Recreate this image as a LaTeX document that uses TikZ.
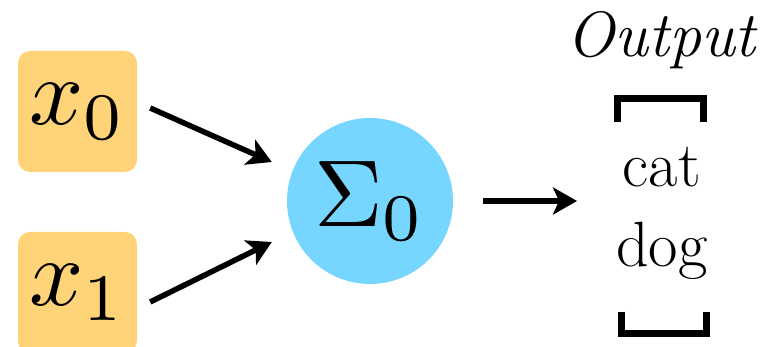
\documentclass[tikz,border=0pt]{standalone}
\usepackage{tikz}
\usetikzlibrary{arrows.meta,positioning,calc}
\definecolor{cantaloupe}{HTML}{FFD479}
\definecolor{sky}{HTML}{76D6FF}

\begin{document}
\begin{tikzpicture}[x=1pt,y=1pt,
  inbox/.style={fill=cantaloupe, rounded corners=12pt, minimum width=119pt, minimum height=121pt, inner sep=0pt},
  sumnode/.style={circle, fill=sky, minimum size=166pt, inner sep=0pt},
  word/.style={anchor=base, inner sep=0pt, font=\fontsize{64}{70}\selectfont},
  arr/.style={-{Stealth[length=24pt,width=27pt,inset=6pt]}, line width=5.5pt},
  brk/.style={line width=7pt}]
\useasboundingbox (0,0) rectangle (772,347);

% inputs
\node[inbox] (x0) at (77.5,235.5) {\scalebox{9.5}{$x_0$}};
\node[inbox] (x1) at (77.5,54.5) {\scalebox{9.5}{$x_1$}};

% neuron
\node[sumnode] (sum) at (370,146) {\scalebox{9.5}{$\Sigma_0$}};

\draw[arr] ([shift={(13,3.5)}]x0.east) -- ([shift={(-15,39)}]sum.west);
\draw[arr] ([shift={(13,-9.5)}]x1.east) -- ([shift={(-15,-41)}]sum.west);

% output vector
\node[word, font=\fontsize{64}{70}\selectfont\itshape] (title) at (661,290) {Output};
\node[word] (cat) at (662,160) {cat};
\node[word] (dog) at (662,80) {dog};
\coordinate (vecin) at (577,145);

\draw[arr] ([xshift=30pt]sum.east) -- (vecin |- sum.east);

\draw[brk] (617.5,225) |- (703.5,248) -- (703.5,225);
\draw[brk] (621.5,35) |- (706.5,13) -- (706.5,35);

\end{tikzpicture}
\end{document}
